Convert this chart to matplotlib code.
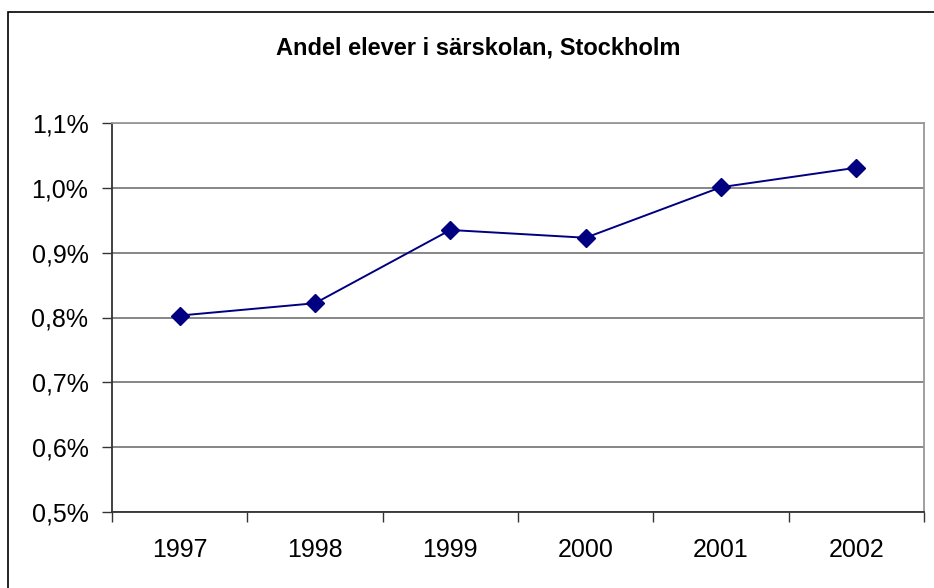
import numpy as np
import matplotlib.pyplot as plt
from matplotlib.patches import Rectangle

plt.rcParams['font.family'] = ['Liberation Sans', 'DejaVu Sans']

years = ['1997', '1998', '1999', '2000', '2001', '2002']
andel = [0.803, 0.822, 0.935, 0.923, 1.001, 1.031]  # procent
y_ticks = [0.5, 0.6, 0.7, 0.8, 0.9, 1.0, 1.1]
y_labels = ['0,5%', '0,6%', '0,7%', '0,8%', '0,9%', '1,0%', '1,1%']

W, H = 934, 588
fig = plt.figure(figsize=(W / 100, H / 100), dpi=100)
fig.patch.set_facecolor('white')

# yttre ram (kapad nere och till höger)
fig.patches.append(Rectangle((8 / W, -0.05), 1.0, 1 - 12 / H + 0.05,
                             transform=fig.transFigure, fill=False,
                             edgecolor='black', linewidth=1.2))

ax = fig.add_axes([112 / W, (H - 512) / H, (924 - 112) / W, (512 - 123) / H])
x = np.arange(len(years))
ax.plot(x, andel, color='#000080', linewidth=1.4, marker='D', markersize=9,
        markerfacecolor='#000080', markeredgecolor='#000080', zorder=3)

ax.set_xlim(-0.5, len(years) - 0.5)
ax.set_ylim(0.5, 1.1)
ax.set_yticks(y_ticks)
ax.set_yticklabels(y_labels, fontsize=18)
ax.yaxis.grid(True, color='#666666', linewidth=1.1)
ax.set_axisbelow(True)

# kategorier mellan tickmarkeringarna
ax.set_xticks(np.arange(len(years) + 1) - 0.5)
ax.set_xticklabels([])
ax.set_xticks(x, minor=True)
ax.set_xticklabels(years, minor=True, fontsize=18)
ax.tick_params(axis='x', which='minor', length=0, pad=19)
ax.tick_params(axis='x', which='major', length=7, width=1, color='#333333',
               direction='out')
ax.tick_params(axis='y', length=7, width=1, color='#333333', pad=10)

for side in ['top', 'right']:
    ax.spines[side].set_color('#999999')
    ax.spines[side].set_linewidth(1.3)
for side in ['left', 'bottom']:
    ax.spines[side].set_color('#333333')
    ax.spines[side].set_linewidth(1.3)

fig.text(478 / W, 1 - 48 / H, 'Andel elever i särskolan, Stockholm',
         ha='center', va='center', fontsize=17, fontweight='bold')

fig.savefig('out.png', dpi=100)
